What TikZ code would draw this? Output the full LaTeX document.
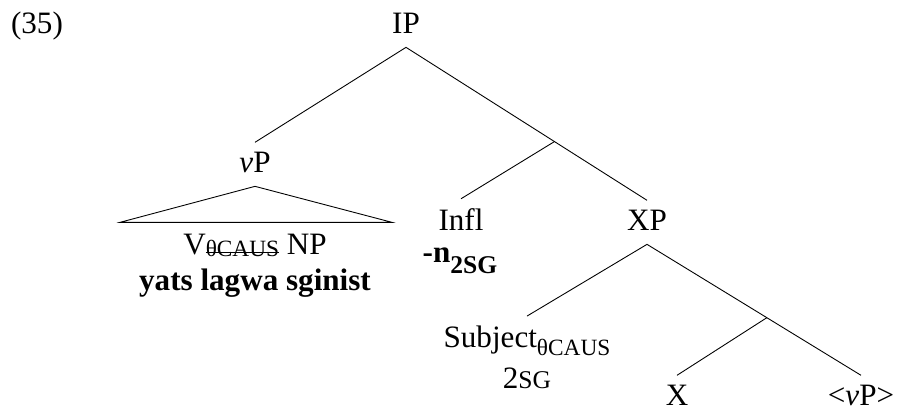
\documentclass[tikz,border=0pt]{standalone}
\usepackage{fontspec}
\setmainfont{Liberation Serif}
\usepackage{tikz}
\usetikzlibrary{calc}
\newcommand{\lowsub}[2][1.2pt]{\raisebox{-#1}{\fontsize{10.5}{12}\selectfont #2}}
\newcommand{\smcap}[1]{{\fontsize{11.5}{13}\selectfont #1}}
\newcommand{\crossout}[1]{\setbox0\hbox{#1}\rlap{\raisebox{0.3ex}{\rule{\wd0}{0.45pt}}}\box0}

\begin{document}
\begin{tikzpicture}[x=0.45pt,y=-0.45pt,
  font=\fontsize{14}{16}\selectfont,
  word/.style={anchor=base,inner xsep=1pt,inner ysep=4pt,text depth=2.25pt},
  plain/.style={anchor=base,inner sep=0pt}]
\useasboundingbox (0,0) rectangle (900,412);
% Example number
\node [plain] (num) at (37,33) {(35)};
% Top of the tree
\node [word] (IP) at (406,33) {IP};
\node [word] (vP) at (255,172) {\textit{v}P};
\node [word] (Infl) at (461,230) {Infl};
\node [word] (XP) at (647,230) {XP};
% Branch points
\coordinate (b1) at ($(IP.south)!0.616!(XP.north)$);
\draw (IP.south) -- (vP.north);
\draw (IP.south) -- (b1) -- (XP.north);
\draw (b1) -- (Infl.north);
% Triangle under vP
\draw (vP.south) -- ++(-135,36) -- ++(272,0) -- cycle;
\node [plain] (VNP) at (255,254) {V\lowsub{\crossout{θCAUS}} NP};
\node [plain] (words) at (255,290) {\bfseries yats lagwa sginist};
% Agreement
\node [plain] (agr) at (460,262) {\bfseries -n\lowsub[5pt]{\fontsize{11.5}{13}\selectfont 2SG}};
% Lower part
\node [word] (subj) at (527,347) {Subject\lowsub[4pt]{θCAUS}};
\node [plain] (sg) at (527,388) {2\smcap{SG}};
\node [word] (X) at (677,405) {X};
\node [word] (vPt) at (861,405) {\textless\textit{v}P\textgreater};
\coordinate (b2) at ($(XP.south)!0.56!(vPt.north)$);
\draw (XP.south) -- (subj.north);
\draw (XP.south) -- (b2) -- (vPt.north);
\draw (b2) -- (X.north);
\end{tikzpicture}
\end{document}
